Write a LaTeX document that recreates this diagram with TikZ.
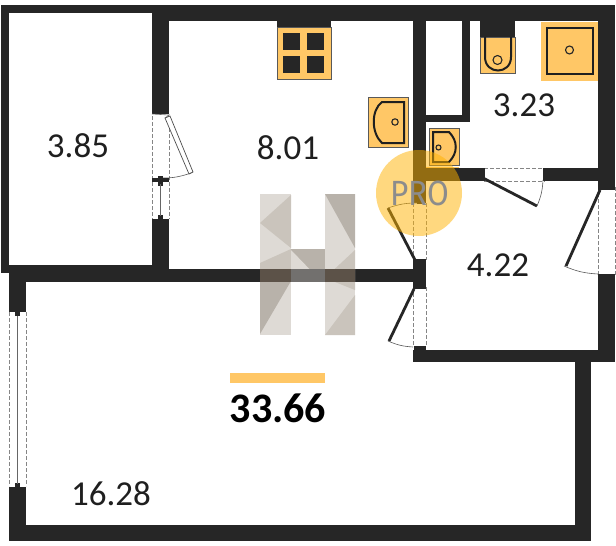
\documentclass[tikz,border=0pt]{standalone}
\usepackage{fontspec}
\setmainfont{Carlito}
\newfontfamily\prof{Fira Sans}
\definecolor{wallc}{HTML}{262626}
\definecolor{fixt}{HTML}{FFC766}
\definecolor{circ}{HTML}{FFB300}
\definecolor{hl}{HTML}{DEDAD5}
\definecolor{hm}{HTML}{CAC4BC}
\definecolor{hd}{HTML}{B8B2AA}
\definecolor{hband}{HTML}{5C5248}
\definecolor{hmid}{HTML}{72706E}
\tikzset{
  wall/.style={fill=wallc,draw=none},
  fixture/.style={fill=fixt,draw=black!65,line width=0.6pt},
  fixline/.style={draw=black!88,line width=2pt,fill=none},
  drain/.style={draw=black!85,line width=1.1pt,fill=none},
  opening/.style={draw=black!48,line width=1pt,dash pattern=on 3.5pt off 2.5pt},
  leaf/.style={draw=wallc,line width=2.8pt},
  swing/.style={draw=black!65,line width=0.6pt},
  area/.style={font=\fontsize{35}{35}\selectfont,text=black!88,inner sep=0pt},
}
\begin{document}
\begin{tikzpicture}[x=1pt,y=-1pt]
\useasboundingbox (0,0) rectangle (616,546);
\fill[white] (0,0) rectangle (616,546);
% walls
\fill[wall] (1,5) rectangle (169,13);
\fill[wall] (152,5) rectangle (615,21);
\fill[wall] (1,5) rectangle (9,273);
\fill[wall] (1,265) rectangle (169,273);
\fill[wall] (9,265) rectangle (169,282);
\fill[wall] (152,5) rectangle (169,114);
\fill[wall] (152,223) rectangle (169,282);
\fill[wall] (169,269) rectangle (413,282);
\fill[wall] (9,282) rectangle (26,310);
\fill[wall] (9,488) rectangle (26,541);
\fill[wall] (9,525) rectangle (591,541);
\fill[wall] (575,350) rectangle (591,541);
\fill[wall] (413,350) rectangle (615,362);
\fill[wall] (598,5) rectangle (615,187);
\fill[wall] (598,275) rectangle (615,362);
\fill[wall] (413,5) rectangle (426,203);
\fill[wall] (413,262) rectangle (426,287);
\fill[wall] (462,5) rectangle (470,122);
\fill[wall] (426,115) rectangle (470,122);
\fill[wall] (426,168) rectangle (481,181);
\fill[wall] (547,168) rectangle (598,181);
% storage door and window
\draw[opening] (152,116) -- (152,219) (169,116) -- (169,219);
\draw[black!60,line width=0.6pt] (152,114) -- (169,115) -- (165,118);
\draw[black!70,line width=0.7pt,fill=white] (165,118) -- (170,116) -- (193,172) -- (189,174) -- cycle;
\draw[swing] (191,173) to[bend left=10] (160,178);
\fill[wall] (152,178) rectangle (169,182);
\fill[wall] (158,176) rectangle (163,186);
\fill[wall] (152,219) rectangle (169,223);
\fill[wall] (158,215) rectangle (163,220);
\draw[black!60,line width=1.4pt] (160.5,184) -- (160.5,216);
% main window
\draw[opening] (9,312) -- (9,486) (26,312) -- (26,486);
\fill[wall] (9,308) rectangle (26,312);
\fill[wall] (15,310) rectangle (20,316);
\fill[wall] (9,487) rectangle (26,492);
\fill[wall] (15,483) rectangle (20,489);
\draw[black!60,line width=1.4pt] (17.5,316) -- (17.5,484);
% upper hall door
\draw[opening] (413,203) -- (413,260) (426,203) -- (426,260);
\draw[leaf] (415,260) -- (388,208);
\draw[swing] (388,208) to[bend left=10] (419,203);
\fill[wall] (417,198) rectangle (423,204);
\fill[wall] (413,259) rectangle (426,265);
% lower hall door
\draw[opening] (413,287) -- (413,346) (426,287) -- (426,346);
\draw[leaf] (414,289) -- (389,341);
\draw[swing] (388,341) to[bend right=10] (413,347);
\fill[wall] (413,284) rectangle (426,289);
\fill[wall] (414,346) rectangle (426,351);
% bath door
\draw[opening] (484,168) -- (545,168) (484,181) -- (545,181);
\fill[wall] (481,168) rectangle (485,181);
\fill[wall] (543,168) rectangle (547,181);
\draw[leaf] (483,178) -- (537,206);
\draw[swing] (537,206) to[bend right=10] (543,180);
% right door
\draw[opening] (598,187) -- (598,275) (615,187) -- (615,275);
\draw[leaf] (600,190) -- (566,266);
\draw[swing] (564,266) to[bend right=10] (598,274);
\fill[wall] (598,185) rectangle (615,190);
\fill[wall] (598,274) rectangle (615,278);
% stove
\fill[wall] (277,21) rectangle (331,27);
\node[fixture,minimum width=54pt,minimum height=52pt,inner sep=0pt,anchor=north west] (stove) at (277,27) {};
\foreach \x/\y in {283/33,307/33,283/56,307/56}
  \fill[wallc] (\x,\y) rectangle ++(16.5,16.5);
% toilet
\fill[wall] (480,21) rectangle (515,37);
\node[fixture,minimum width=35pt,minimum height=36pt,inner sep=0pt,anchor=north west] (toilet) at (480,37) {};
\draw[fixline] (485,37) -- (485,57) .. controls (485,75) and (511,75) .. (511,57) -- (511,37);
\draw[drain] (497.5,60) circle (4.5);
% shower
\node[fixture,minimum width=57pt,minimum height=59pt,inner sep=0pt,anchor=north west,draw=none] (shower) at (541,22) {};
\draw[fixline,line width=2.6pt] (547,28) rectangle (593,74);
\draw[drain] (569.5,50) circle (4);
% sink kitchen
\node[fixture,minimum width=40pt,minimum height=50pt,inner sep=0pt,anchor=north west] (sinka) at (368,97) {};
\draw[fixline] (404,102) -- (382,102) .. controls (371,110) and (371,133) .. (382,143) -- (404,143) -- cycle;
\draw[drain] (395,122) circle (3.2);
% sink bath
\node[fixture,minimum width=30pt,minimum height=37pt,inner sep=0pt,anchor=north west] (sinkb) at (429,128) {};
\draw[fixline] (433,132) -- (449,132) .. controls (458,141) and (458,153) .. (449,162) -- (433,162) -- cycle;
\draw[drain] (438.5,147.5) circle (2.5);
\fill[fixt] (426,166.5) rectangle (459,168);
% logo H
\fill[hl] (260,194) rectangle (291,335);
\fill[hl] (325,194) rectangle (355,335);
\fill[hm] (291,195) -- (291,248) -- (260,223) -- cycle;
\fill[hm] (260,263) -- (291,249) -- (291,280) -- (260,270) -- cycle;
\fill[hd] (260,270) -- (291,281) -- (260,334) -- cycle;
\fill[hd] (291,249) rectangle (325,280);
\fill[hl] (291,250) -- (291,280) -- (320,280) -- cycle;
\fill[hd] (325,194) -- (355,194) -- (355,248) -- cycle;
\fill[hm] (355,250) -- (355,290) -- (325,278) -- cycle;
\fill[hm] (325,335) -- (355,295) -- (355,335) -- cycle;
\fill[hband] (260,269) rectangle (291,282);
\fill[hmid] (291,269) rectangle (325,282);
\fill[hband] (325,269) rectangle (355,282);
% circle
\node[circle,fill=circ,fill opacity=0.5,minimum size=86pt,inner sep=0pt] (pro) at (419,193) {};
\node[font=\prof\fontsize{35}{35}\selectfont,text=black!45,inner sep=0pt,xscale=0.9] (protext) at (420,193) {PRO};
% labels
\node[area] (a1) at (78,145.5) {3.85};
\node[area] (a2) at (288,147.5) {8.01};
\node[area] (a3) at (524,105) {3.23};
\node[area] (a4) at (498,265) {4.22};
\node[area] (a5) at (111,494) {16.28};
\fill[fixt] (230,373) rectangle (325,383);
\node[font=\fontsize{42}{42}\selectfont\bfseries,text=black,inner sep=0pt] (total) at (278,408) {33.66};
\end{tikzpicture}
\end{document}
